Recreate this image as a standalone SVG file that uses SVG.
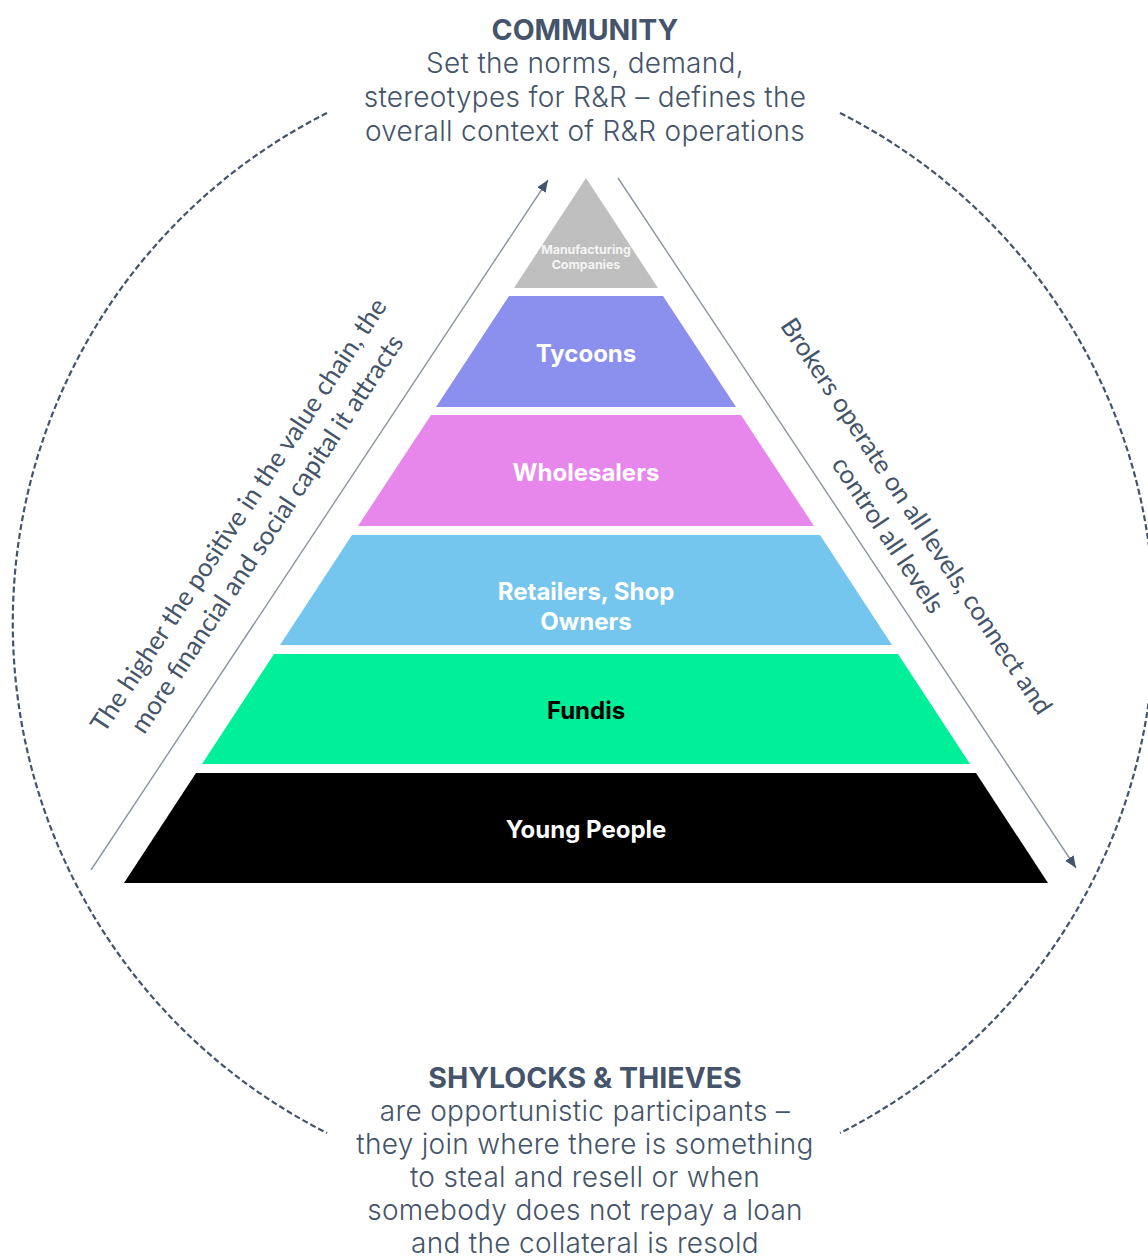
<svg xmlns="http://www.w3.org/2000/svg" width="1148" height="1260" viewBox="0 0 1148 1260">
  <style>
    .head { font-family: Inter, "Liberation Sans", sans-serif; font-weight: 700; font-size: 28.5px; fill: #44546a; text-anchor: middle; }
    .body { font-family: Inter, "Liberation Sans", sans-serif; font-weight: 300; font-size: 28px; letter-spacing: 0.3px; fill: #44546a; text-anchor: middle; }
    .side { font-family: Lato, "Liberation Sans", sans-serif; font-weight: 400; font-size: 25.8px; fill: #44546a; text-anchor: middle; }
    .lvl { font-family: Inter, "Liberation Sans", sans-serif; font-weight: 700; font-size: 24px; fill: #ffffff; text-anchor: middle; }
    .lvl-sm { font-family: Inter, "Liberation Sans", sans-serif; font-weight: 700; font-size: 12.4px; fill: #f4f4f4; text-anchor: middle; }
    .ring { fill: none; stroke: #44546a; stroke-width: 2.2; stroke-dasharray: 6 3; }
    .arrow { fill: none; stroke: #8a94a2; stroke-width: 1.4; marker-end: url(#head); }
  </style>
  <defs>
    <marker id="head" markerUnits="userSpaceOnUse" markerWidth="14" markerHeight="12" refX="12" refY="5" orient="auto">
      <path d="M0,0 L12,5 L0,10 Z" fill="#44546a"/>
    </marker>
  </defs>

  <rect width="1148" height="1260" fill="#ffffff"/>

  <!-- dashed ring split by the two text blocks -->
  <g id="ring">
    <path class="ring" d="M327,113 A571,571 0 0 0 327,1133"/>
    <path class="ring" d="M840,113 A571,571 0 0 1 840,1133"/>
  </g>

  <!-- side arrows parallel to the pyramid flanks -->
  <g id="connectors">
    <path class="arrow" d="M91,870 L548,180"/>
    <path class="arrow" d="M618,178 L1076,868"/>
  </g>

  <g id="community">
    <text class="head" x="585" y="40">COMMUNITY</text>
    <text class="body" x="585" y="73">Set the norms, demand,</text>
    <text class="body" x="585" y="107">stereotypes for R&amp;R – defines the</text>
    <text class="body" x="585" y="141">overall context of R&amp;R operations</text>
  </g>

  <g id="shylocks">
    <text class="head" x="585" y="1088">SHYLOCKS &amp; THIEVES</text>
    <text class="body" x="585" y="1121">are opportunistic participants –</text>
    <text class="body" x="585" y="1154">they join where there is something</text>
    <text class="body" x="585" y="1187">to steal and resell or when</text>
    <text class="body" x="585" y="1220">somebody does not repay a loan</text>
    <text class="body" x="585" y="1253">and the collateral is resold</text>
  </g>

  <g id="value-note" transform="translate(246,520) rotate(-56.5)">
    <text class="side" x="0" y="0">The higher the positive in the value chain, the</text>
    <text class="side" x="0" y="34">more financial and social capital it attracts</text>
  </g>

  <g id="brokers-note" transform="translate(909,521) rotate(56.5)">
    <text class="side" x="0" y="0">Brokers operate on all levels, connect and</text>
    <text class="side" x="0" y="34">control all levels</text>
  </g>

  <!-- pyramid levels, top to bottom -->
  <g id="manufacturing">
    <polygon points="586,178 658,288 514,288" fill="#bfbfbf"/>
    <text class="lvl-sm" x="586" y="254">Manufacturing</text>
    <text class="lvl-sm" x="586" y="269">Companies</text>
  </g>
  <g id="tycoons">
    <polygon points="509,296 663,296 736,407 436,407" fill="#8b8fee"/>
    <text class="lvl" x="586" y="362">Tycoons</text>
  </g>
  <g id="wholesalers">
    <polygon points="431,415 741,415 814,526 358,526" fill="#e787ec"/>
    <text class="lvl" x="586" y="481">Wholesalers</text>
  </g>
  <g id="retailers">
    <polygon points="352,535 820,535 892,645 280,645" fill="#75c6ef"/>
    <text class="lvl" x="586" y="600">Retailers, Shop</text>
    <text class="lvl" x="586" y="630">Owners</text>
  </g>
  <g id="fundis">
    <polygon points="274,654 898,654 970,764 202,764" fill="#00f09a"/>
    <text class="lvl" x="586" y="719" style="fill:#000000">Fundis</text>
  </g>
  <g id="young-people">
    <polygon points="196,773 976,773 1048,883 124,883" fill="#000000"/>
    <text class="lvl" x="586" y="838">Young People</text>
  </g>
</svg>
